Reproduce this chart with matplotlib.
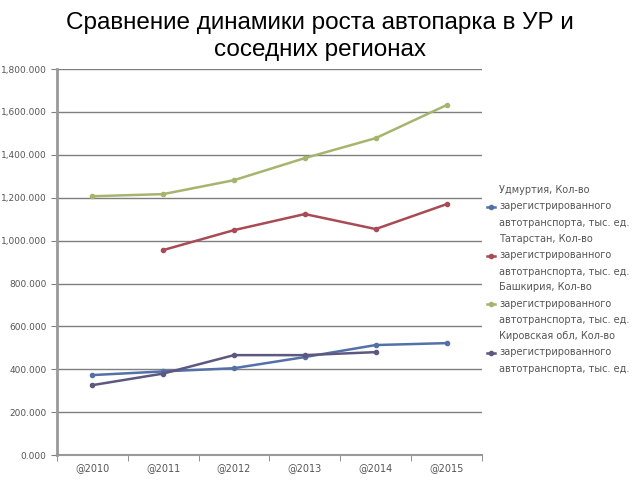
import numpy as np
import matplotlib
matplotlib.use("Agg")
import matplotlib.pyplot as plt
from matplotlib.ticker import FuncFormatter, FixedLocator

years = ["@2010", "@2011", "@2012", "@2013", "@2014", "@2015"]

# тыс. ед.
udmurtia = [373, 390, 405, 457, 513, 522]
tatarstan = [np.nan, 956, 1049, 1124, 1054, 1170]
bashkiria = [1207, 1217, 1282, 1385, 1478, 1632]
kirov = [326, 380, 466, 466, 480, np.nan]

suffix = "Кол-во\nзарегистрированного\nавтотранспорта, тыс. ед."
labels = ["Удмуртия, " + suffix,
          "Татарстан, " + suffix,
          "Башкирия, " + suffix,
          "Кировская обл, " + suffix]
colors = ["#5470a8", "#a84b55", "#a7b46e", "#5e5780"]

fig = plt.figure(figsize=(6.4, 4.8), dpi=100)
ax = fig.add_axes([0.089, 0.052, 0.664, 0.804])

x = np.arange(len(years))
for vals, lab, c in zip([udmurtia, tatarstan, bashkiria, kirov], labels, colors):
    ax.plot(x, vals, color=c, lw=1.8, marker="o", ms=3, label=lab)

ax.set_xlim(-0.5, 5.5)
ax.set_ylim(0, 1800)
ax.set_yticks(np.arange(0, 1801, 200))
ax.yaxis.set_major_formatter(FuncFormatter(lambda v, p: "{:,.3f}".format(v)))
ax.set_xticks(x)
ax.set_xticklabels(years)
ax.xaxis.set_minor_locator(FixedLocator(np.arange(-0.5, 6, 1)))
ax.tick_params(axis="x", which="major", length=0, pad=6, labelsize=7)
ax.tick_params(axis="x", which="minor", length=4, color="#808080")
ax.tick_params(axis="y", length=4, color="#808080", labelsize=6.5)
ax.tick_params(labelcolor="#555555")

ax.grid(axis="y", color="#7f7f7f", lw=1)
ax.set_axisbelow(True)
for s in ["top", "right"]:
    ax.spines[s].set_visible(False)
ax.spines["left"].set_color("#999999")
ax.spines["left"].set_linewidth(2)
ax.spines["bottom"].set_color("#999999")
ax.spines["bottom"].set_linewidth(1.5)

leg = ax.legend(loc="center left", bbox_to_anchor=(1.0, 0.455), frameon=False,
                fontsize=7, handlelength=0.8, handletextpad=0.5,
                labelspacing=0.6, borderaxespad=0.1)
for t in leg.get_texts():
    t.set_color("#555555")
    t.set_linespacing(1.8)

fig.text(0.5, 0.975, "Сравнение динамики роста автопарка в УР и\nсоседних регионах",
         ha="center", va="top", fontsize=17.5, family="Liberation Sans",
         linespacing=1.3)

fig.savefig("out.png", dpi=100)
